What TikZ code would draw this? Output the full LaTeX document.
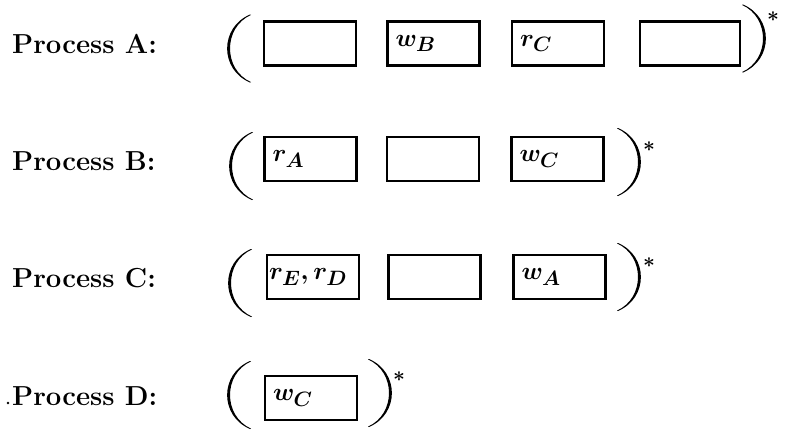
\documentclass[tikz,border=0pt]{standalone}
\begin{document}
\begin{tikzpicture}[x=1pt,y=-1pt,
  lbl/.style={anchor=base west, inner sep=0pt, font=\fontsize{27.5}{30}\selectfont\bfseries},
  slot/.style={draw, line width=2.6pt, text width=76pt, inner xsep=8pt, inner ysep=0pt,
    minimum height=44pt, align=left, font=\fontsize{28.5}{30}\selectfont\boldmath},
  wideslot/.style={slot, text width=100pt, inner xsep=0pt},
  tightslot/.style={slot, text width=88pt, inner xsep=2pt},
  star/.style={inner sep=0pt, font=\fontsize{22}{24}\selectfont\boldmath},
  lpar/.pic={\fill (12,-34) .. controls (-18.5,-21) and (-18.5,21) .. (12,34)
      -- (13,33.6) .. controls (-15,21) and (-15,-21) .. (13,-33.6) -- cycle;},
  rpar/.pic={\begin{scope}[xscale=-1]
      \fill (12,-34) .. controls (-18.5,-21) and (-18.5,21) .. (12,34)
      -- (13,33.6) .. controls (-15,21) and (-15,-21) .. (13,-33.6) -- cycle;
    \end{scope}}
]
\useasboundingbox (0,0) rectangle (792,437);

% Process A
\node[lbl] (la) at (12,53) {Process A:};
\pic at (238,48.5) {lpar};
\node[slot] (a1) at (310,43.5) {};
\node[slot] (a2) at (433.5,43.5) {$w_B$};
\node[slot] (a3) at (558,43.5) {$r_C$};
\node[wideslot] (a4) at (690,43.5) {};
\pic at (755,38.5) {rpar};
\node[star] (sa) at (773,17) {$*$};

% Process B
\node[lbl] (lb) at (12,170) {Process B:};
\pic at (240,166) {lpar};
\node[slot] (b1) at (310.5,159) {$r_A$};
\node[slot] (b2) at (433,159) {};
\node[slot] (b3) at (557.5,159) {$w_C$};
\pic at (630,162) {rpar};
\node[star] (sb) at (649,147) {$*$};

% Process C
\node[lbl] (lc) at (12,287) {Process C:};
\pic at (239,283) {lpar};
\node[tightslot] (c1) at (313,277) {$r_E,r_D$};
\node[slot] (c2) at (434.5,277) {};
\node[slot] (c3) at (559.5,277) {$w_A$};
\pic at (630,277) {rpar};
\node[star] (sc) at (649,263) {$*$};

% Process D
\fill (8,403) circle (1.3);
\node[lbl] (ld) at (12,405) {Process D:};
\pic at (238,395) {lpar};
\node[slot] (d1) at (311,398) {$w_C$};
\pic at (381,393) {rpar};
\node[star] (sd) at (399,377) {$*$};
\end{tikzpicture}
\end{document}
